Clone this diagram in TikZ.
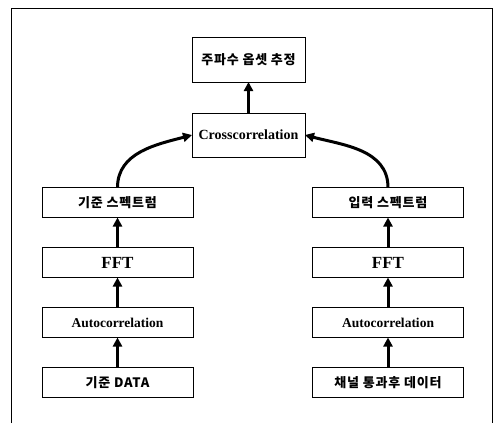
\documentclass[tikz,border=0pt]{standalone}
\usepackage{fontspec}
\setmainfont{Liberation Serif}
\newfontfamily\kor[LetterSpace=6]{Noto Sans CJK KR}
\usetikzlibrary{positioning,arrows.meta}
\tikzset{
  blk/.style={draw,line width=1pt,minimum width=151pt,minimum height=30pt,inner sep=0pt,outer sep=0pt},
  hdr/.style={blk,minimum width=113pt,minimum height=45pt},
  up/.style={line width=3pt,-{Triangle[length=9pt,width=9pt]}},
  ko/.style={font=\kor\bfseries\fontsize{13}{15}\selectfont},
  la/.style={font=\bfseries\fontsize{13.5}{15}\selectfont},
  ff/.style={font=\bfseries\fontsize{17}{20}\selectfont}
}
\begin{document}
\begin{tikzpicture}[x=1pt,y=-1pt]
\useasboundingbox (0,0) rectangle (494,423);
\draw[line width=.8pt] (11,423) -- (11,8) -- (492,8) -- (492,423);
% centre
\node[hdr,ko] (est) at (248.5,59.5) {주파수 옵셋 추정};
\node[hdr,la,font=\bfseries\fontsize{14}{16}\selectfont,minimum height=44pt] (xc) at (248.5,135) {Crosscorrelation};
% left column
\node[blk,ko] (rspec) at (117.5,202.5) {기준 스펙트럼};
\node[blk,ff,below=30pt of rspec] (rfft) {FFT};
\node[blk,la,below=30pt of rfft] (rac) {Autocorrelation};
\node[blk,ko,below=30pt of rac] (rdat) {기준 DATA};
% right column
\node[blk,ko] (ispec) at (388,202.5) {입력 스펙트럼};
\node[blk,ff,below=30pt of ispec] (ifft) {FFT};
\node[blk,la,below=30pt of ifft] (iac) {Autocorrelation};
\node[blk,ko,below=30pt of iac] (idat) {채널 통과후 데이터};
\foreach \a/\b in {rdat/rac,rac/rfft,rfft/rspec,idat/iac,iac/ifft,ifft/ispec,xc/est}
  \draw[up] (\a) -- (\b);
\draw[up] (rspec.north) to[out=90,in=195] (xc.west);
\draw[up] (ispec.north) to[out=90,in=-15] (xc.east);
\end{tikzpicture}
\end{document}
